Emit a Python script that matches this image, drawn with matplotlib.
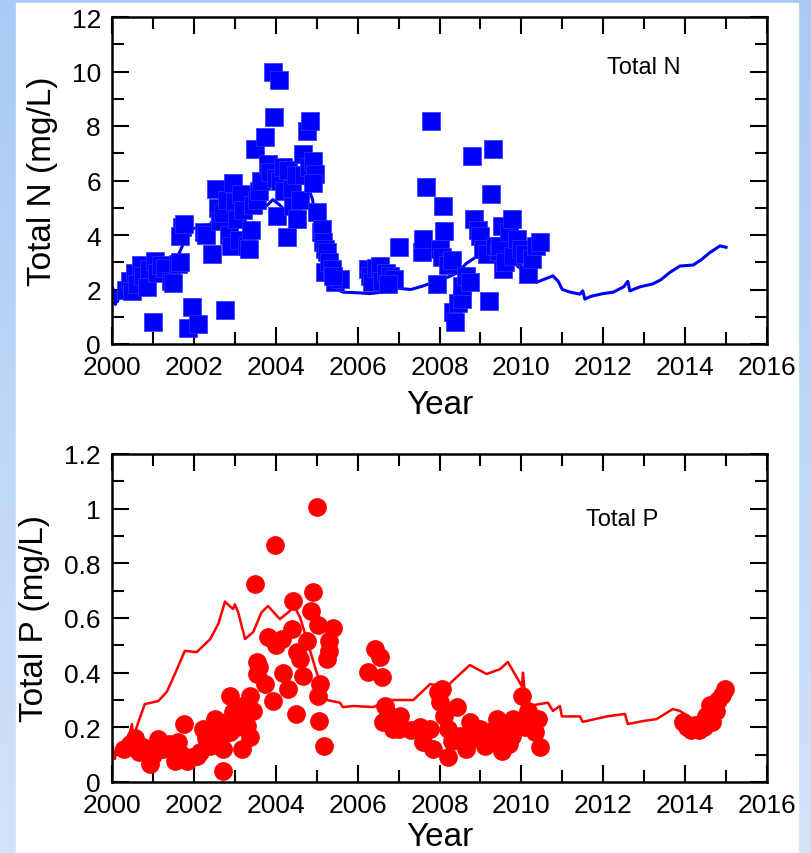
import numpy as np
import matplotlib
matplotlib.use("Agg")
import matplotlib.pyplot as plt
from matplotlib.patches import Rectangle
from matplotlib.ticker import MultipleLocator

plt.rcParams['font.family'] = ['Liberation Sans', 'DejaVu Sans']

# Total N observations (year, mg/L)
n_obs_year = [2000.35, 2000.45, 2000.5, 2000.55, 2000.6, 2000.7, 2000.75, 2000.85, 2000.9, 2001.0,
              2001.05, 2001.1, 2001.2, 2001.3, 2001.45, 2001.5, 2001.6, 2001.65, 2001.7, 2001.66,
              2001.75, 2001.85, 2001.95, 2002.1,
              2002.25, 2002.3, 2002.45, 2002.55, 2002.6, 2002.65, 2002.7, 2002.75, 2002.8, 2002.85,
              2002.9, 2002.95, 2003.0, 2003.05, 2003.1, 2003.15, 2003.2, 2003.3, 2003.35, 2003.4,
              2003.45, 2003.5, 2003.55, 2003.6, 2003.65,
              2003.74, 2003.8, 2003.85, 2003.93, 2003.96, 2004.0, 2004.08, 2004.03, 2004.1, 2004.17,
              2004.2, 2004.27, 2004.3, 2004.4, 2004.43, 2004.5, 2004.51, 2004.6, 2004.67, 2004.76,
              2004.84, 2004.7, 2004.8, 2004.92, 2004.96, 2004.9,
              2005.0, 2005.1, 2005.13, 2005.16, 2005.2, 2005.25, 2005.2, 2005.3, 2005.37, 2005.45,
              2005.57, 2005.4,
              2006.25, 2006.3, 2006.35, 2006.45, 2006.55, 2006.6, 2006.7, 2006.8, 2006.9, 2007.0, 2006.75,
              2007.57, 2007.6, 2007.67, 2007.8, 2007.93, 2008.0, 2008.06, 2008.08, 2008.1, 2008.2,
              2008.3, 2008.33, 2008.38, 2008.45, 2008.55, 2008.55, 2008.65, 2008.74, 2008.8, 2008.85,
              2008.95, 2009.0, 2009.06, 2009.15, 2009.2, 2009.25, 2009.3, 2009.35, 2009.45, 2009.48,
              2009.53, 2009.55, 2009.6, 2009.7, 2009.77, 2009.8, 2009.9, 2010.0, 2010.1, 2010.16,
              2010.26, 2010.35, 2010.45]
n_obs_val = [2.0, 2.3, 1.95, 2.6, 2.2, 2.9, 2.5, 2.1, 2.75, 0.8,
             3.05, 2.6, 2.9, 2.8, 2.3, 2.25, 2.95, 3.0, 4.3, 3.95,
             4.4, 0.6, 1.35, 0.73,
             4.1, 4.0, 3.3, 5.7, 5.0, 4.5, 4.8, 1.25, 5.3, 4.0,
             3.6, 5.9, 5.2, 4.6, 3.8, 5.5, 4.9, 3.6, 3.5, 4.2,
             5.1, 7.15, 5.3, 5.6, 6.0,
             7.6, 6.6, 6.3, 10.0, 8.33, 6.1, 9.7, 4.7, 6.0, 6.5,
             5.6, 3.93, 6.4, 5.7, 5.07, 6.2, 4.6, 5.3, 6.97, 7.8,
             8.2, 6.2, 6.5, 6.7, 6.24, 5.9,
             4.84, 4.1, 4.22, 3.74, 3.5, 3.37, 2.64, 3.0, 2.75, 2.27,
             2.4, 2.5,
             2.75, 2.5, 2.27, 2.8, 2.86, 2.3, 2.6, 2.5, 2.4, 3.55, 2.2,
             3.37, 3.85, 5.75, 8.2, 2.2, 3.5, 3.2, 5.05, 4.15, 2.9,
             3.1, 1.17, 0.8, 1.5, 1.65, 2.13, 2.5, 2.27, 6.9, 4.6,
             4.2, 3.96, 3.48, 3.3, 1.58, 5.5, 7.15, 3.6, 3.4, 3.6,
             4.33, 2.75, 3.0, 4.1, 4.6, 3.23, 3.85, 3.5, 3.3, 2.57,
             3.12, 3.6, 3.75]

# Total N model curve
n_fit_year = [2000.0, 2000.05, 2000.08, 2000.1, 2000.13, 2000.2, 2000.4, 2000.7, 2001.0, 2001.3,
              2001.6, 2001.75, 2001.9, 2002.15, 2002.4, 2002.6, 2002.9, 2003.2, 2003.5, 2003.8,
              2003.93, 2004.1, 2004.25, 2004.5, 2004.65, 2004.8, 2004.9, 2004.95, 2005.05, 2005.2,
              2005.35, 2005.5, 2005.65, 2006.0, 2006.3, 2006.6, 2006.96, 2007.3, 2007.6, 2007.84,
              2008.2, 2008.45, 2008.65, 2008.9, 2009.2, 2009.5, 2009.8, 2010.1, 2010.38, 2010.6,
              2010.77, 2010.9, 2011.0, 2011.2, 2011.43, 2011.5, 2011.55, 2011.7, 2012.0, 2012.24,
              2012.5, 2012.6, 2012.65, 2012.9, 2013.2, 2013.4, 2013.63, 2013.87, 2014.2, 2014.4,
              2014.6, 2014.85, 2015.0]
n_fit_val = [2.1, 1.9, 1.45, 1.9, 1.55, 1.8, 2.1, 2.4, 2.6, 2.8,
             3.2, 3.7, 4.2, 4.3, 4.4, 4.8, 4.9, 4.9, 5.0, 5.1,
             5.3, 5.1, 4.85, 4.8, 5.3, 5.7, 5.3, 4.6, 3.8, 3.0,
             2.4, 2.0, 1.9, 1.88, 1.85, 1.9, 2.05, 2.0, 2.13, 2.27,
             2.45, 2.62, 2.95, 3.2, 3.3, 3.2, 3.0, 2.6, 2.27, 2.4,
             2.5, 2.3, 2.0, 1.9, 1.83, 1.95, 1.65, 1.75, 1.85, 1.9,
             2.1, 2.3, 1.95, 2.1, 2.2, 2.35, 2.63, 2.86, 2.9, 3.1,
             3.35, 3.6, 3.55]

# Total P observations (year, mg/L)
p_obs_year = [2000.3, 2000.44, 2000.55, 2000.65, 2000.76, 2000.93, 2001.0, 2001.13, 2001.25, 2001.4,
              2001.46, 2001.54, 2001.6, 2001.7, 2001.76, 2001.83, 2001.95, 2002.07, 2002.15, 2002.22,
              2002.3, 2002.4, 2002.45, 2002.52, 2002.6, 2002.64, 2002.7, 2002.7, 2002.78, 2002.88,
              2002.88, 2002.96, 2003.05, 2003.13, 2003.17, 2003.25, 2003.3, 2003.37, 2003.37, 2003.44,
              2003.5, 2003.54, 2003.54, 2003.6, 2003.73, 2003.8, 2003.93, 2003.98, 2004.0, 2004.15,
              2004.18, 2004.3, 2004.4, 2004.42, 2004.5, 2004.52, 2004.6, 2004.67, 2004.76, 2004.86,
              2004.9, 2005.0, 2005.03, 2005.03, 2005.06, 2005.08, 2005.18, 2005.25, 2005.3, 2005.3,
              2005.4,
              2006.25, 2006.42, 2006.55, 2006.6, 2006.62, 2006.67, 2006.86, 2006.74,
              2007.03, 2007.0, 2007.3, 2007.52, 2007.6, 2007.77, 2007.85, 2007.97, 2008.0, 2008.06,
              2008.1, 2008.2, 2008.2, 2008.3, 2008.43, 2008.5, 2008.58, 2008.65, 2008.74, 2008.85,
              2008.99, 2009.1, 2009.23, 2009.3, 2009.4, 2009.45, 2009.53, 2009.6, 2009.7, 2009.77,
              2009.8, 2009.9, 2010.01, 2010.1, 2010.16, 2010.33, 2010.4, 2010.45,
              2013.95, 2014.05, 2014.15, 2014.25, 2014.35, 2014.45, 2014.5, 2014.6, 2014.65, 2014.75,
              2014.8, 2014.9, 2014.98]
p_obs_val = [0.12, 0.139, 0.16, 0.11, 0.128, 0.066, 0.10, 0.157, 0.12, 0.14,
             0.128, 0.077, 0.146, 0.10, 0.212, 0.077, 0.09, 0.095, 0.11, 0.194,
             0.16, 0.132, 0.19, 0.23, 0.2, 0.157, 0.12, 0.04, 0.22, 0.183,
             0.315, 0.256, 0.2, 0.23, 0.12, 0.28, 0.205, 0.165, 0.315, 0.26,
             0.725, 0.44, 0.395, 0.42, 0.358, 0.53, 0.296, 0.867, 0.5, 0.523,
             0.40, 0.34, 0.56, 0.662, 0.249, 0.475, 0.45, 0.388, 0.516, 0.625,
             0.695, 1.005, 0.575, 0.315, 0.223, 0.358, 0.132, 0.45, 0.516, 0.48,
             0.563,
             0.402, 0.487, 0.457, 0.384, 0.22, 0.278, 0.194, 0.25,
             0.24, 0.194, 0.19, 0.2, 0.146, 0.194, 0.12, 0.33, 0.293, 0.34,
             0.24, 0.194, 0.09, 0.15, 0.274, 0.17, 0.146, 0.12, 0.22, 0.16,
             0.194, 0.13, 0.157, 0.19, 0.23, 0.15, 0.113, 0.18, 0.14, 0.168,
             0.23, 0.2, 0.315, 0.2, 0.26, 0.183, 0.23, 0.128,
             0.22, 0.20, 0.19, 0.21, 0.19, 0.20, 0.24, 0.28, 0.22, 0.26,
             0.30, 0.32, 0.34]

# Total P model curve
p_fit_year = [2000.0, 2000.07, 2000.12, 2000.2, 2000.4, 2000.49, 2000.52, 2000.6, 2000.8, 2001.13,
              2001.34, 2001.55, 2001.78, 2002.07, 2002.4, 2002.6, 2002.76, 2002.9, 2002.96, 2003.0,
              2003.08, 2003.25, 2003.45, 2003.65, 2003.81, 2004.1, 2004.35, 2004.43, 2004.6, 2004.8,
              2005.0, 2005.25, 2005.57, 2005.64, 2005.9, 2006.38, 2006.79, 2007.36, 2007.77, 2008.18,
              2008.74, 2009.15, 2009.48, 2009.67, 2010.01, 2010.04, 2010.1, 2010.16, 2010.65, 2010.77,
              2010.94, 2010.99, 2011.43, 2011.5, 2012.09, 2012.53, 2012.6, 2012.97, 2013.3, 2013.7,
              2013.87, 2014.2, 2014.6, 2014.9]
p_fit_val = [0.146, 0.084, 0.13, 0.139, 0.16, 0.212, 0.15, 0.2, 0.285, 0.296,
             0.33, 0.40, 0.48, 0.475, 0.523, 0.58, 0.66, 0.64, 0.633, 0.65,
             0.622, 0.523, 0.549, 0.62, 0.644, 0.596, 0.626, 0.65, 0.6, 0.5,
             0.4, 0.30, 0.29, 0.274, 0.278, 0.274, 0.30, 0.30, 0.358, 0.35,
             0.428, 0.395, 0.413, 0.439, 0.351, 0.40, 0.3, 0.278, 0.29, 0.26,
             0.278, 0.24, 0.24, 0.22, 0.24, 0.249, 0.212, 0.223, 0.23, 0.267,
             0.26, 0.23, 0.26, 0.32]

W, H = 811, 854
fig = plt.figure(figsize=(W / 100, H / 100), dpi=100)

# light blue frame with a white page
bg = fig.add_axes([0, 0, 1, 1], zorder=-10)
grad = np.linspace(0, 1, 256).reshape(-1, 1)
top_c = np.array([168, 203, 245]) / 255
bot_c = np.array([210, 227, 249]) / 255
img = top_c + (bot_c - top_c) * grad[:, :, None]
bg.imshow(img, aspect='auto', extent=[0, 1, 0, 1])
bg.add_patch(Rectangle((16 / W, 0), (798 - 16) / W, 1 - 4 / H, color='white'))
bg.set_xlim(0, 1)
bg.set_ylim(0, 1)
bg.axis('off')

ax1 = fig.add_axes([112 / W, 1 - 345 / H, 655 / W, 327 / H])
ax2 = fig.add_axes([112 / W, 1 - 783 / H, 655 / W, 328 / H])

ax1.plot(n_fit_year, n_fit_val, color='#0000ff', lw=2.2, zorder=2)
ax1.plot(n_obs_year, n_obs_val, 's', color='#0000ff', ms=12.3, mec='#3030ff', mew=0.5, zorder=3)
ax1.set_ylim(0, 12)
ax1.yaxis.set_major_locator(MultipleLocator(2))
ax1.yaxis.set_minor_locator(MultipleLocator(1))
ax1.set_ylabel('Total N (mg/L)', fontsize=24, labelpad=10)
ax1.text(0.812, 0.847, 'Total N', transform=ax1.transAxes, fontsize=17, ha='center', va='center')

ax2.plot(p_fit_year, p_fit_val, color='#ff0000', lw=1.8, zorder=2)
ax2.plot(p_obs_year, p_obs_val, 'o', color='#ff0000', ms=13.5, mec='#ff0000', mew=0, zorder=3)
ax2.set_ylim(0, 1.2)
ax2.yaxis.set_major_locator(MultipleLocator(0.2))
ax2.yaxis.set_minor_locator(MultipleLocator(0.1))
ax2.set_yticks([0, 0.2, 0.4, 0.6, 0.8, 1.0, 1.2])
ax2.set_yticklabels(['0', '0.2', '0.4', '0.6', '0.8', '1', '1.2'])
ax2.set_ylabel('Total P (mg/L)', fontsize=24, labelpad=10)
ax2.text(0.779, 0.802, 'Total P', transform=ax2.transAxes, fontsize=17, ha='center', va='center')

for ax in (ax1, ax2):
    ax.set_xlim(2000, 2016)
    ax.xaxis.set_major_locator(MultipleLocator(2))
    ax.xaxis.set_minor_locator(MultipleLocator(1))
    ax.tick_params(which='both', direction='in', top=True, right=True, width=1.5, labelsize=19, pad=8)
    ax.tick_params(which='major', length=12)
    ax.tick_params(which='minor', length=8.5)
    for s in ax.spines.values():
        s.set_linewidth(1.8)
    ax.set_facecolor('white')

ax1.set_xlabel('Year', fontsize=24, labelpad=7)
ax2.set_xlabel('Year', fontsize=24, labelpad=3)

fig.savefig('out.png', dpi=100)
